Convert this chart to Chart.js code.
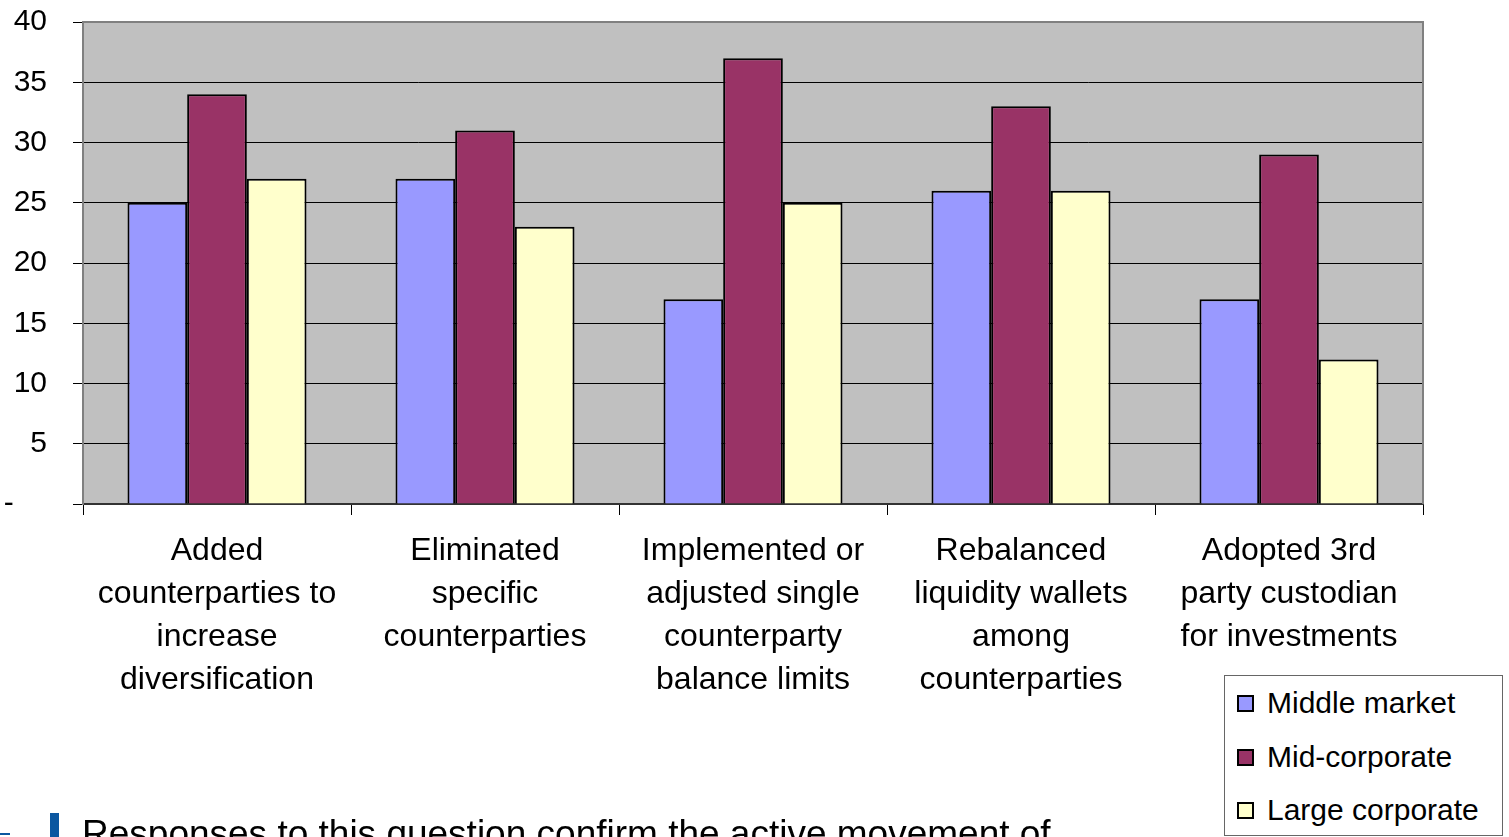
<!DOCTYPE html>
<html>
<head>
<meta charset="utf-8">
<title>Counterparty actions</title>
<script src="https://cdn.jsdelivr.net/npm/chart.js@4/dist/chart.umd.min.js"></script>
<style>
  body { margin: 0; background: #fff; overflow: hidden; }
  #wrap { position: relative; width: 1509px; height: 837px; overflow: hidden; }
  #legend {
    position: absolute; left: 1224px; top: 675px; width: 277px; height: 159px;
    border: 1px solid #666; background: #fff;
    font: 30px 'Liberation Sans', Arial, sans-serif; color: #000;
  }
  .item { position: absolute; left: 12px; height: 34px; line-height: 34px; white-space: nowrap; }
  .swatch { display: inline-block; width: 13px; height: 13px; border: 2px solid #000; vertical-align: middle; margin-right: 13px; position: relative; top: -2px; }
  #note {
    position: absolute; left: 82px; top: 815px; white-space: nowrap;
    font: 37px 'Liberation Sans', Arial, sans-serif; line-height: 1; color: #000;
  }
  #bar { position: absolute; left: 50px; top: 813px; width: 9px; height: 30px; background: #0b57a0; }
  #mark { position: absolute; left: 0; top: 833px; width: 10px; height: 2px; background: #0b57a0; }
</style>
</head>
<body>
<div id="wrap">
  <canvas id="chart" width="1509" height="837"></canvas>
  <div id="legend"></div>
  <div id="mark"></div>
  <div id="bar"></div>
  <div id="note">Responses to this question confirm the active movement of</div>
</div>
<script>
// chart data
const categories = [
    ['Added', 'counterparties to', 'increase', 'diversification'],
    ['Eliminated', 'specific', 'counterparties'],
    ['Implemented or', 'adjusted single', 'counterparty', 'balance limits'],
    ['Rebalanced', 'liquidity wallets', 'among', 'counterparties'],
    ['Adopted 3rd', 'party custodian', 'for investments']
];
const seriesNames = ['Middle market', 'Mid-corporate', 'Large corporate'];
const middleMarket = [25, 27, 17, 26, 17];
const midCorporate = [34, 31, 37, 33, 29];
const largeCorporate = [27, 23, 25, 26, 12];
const seriesColors = ['#9999FF', '#993366', '#FFFFCC'];
const yMin = 0, yMax = 40, yStep = 5;
const zeroLabel = '-    ';

Chart.defaults.font.family = "'Liberation Sans', Arial, sans-serif";
Chart.defaults.color = '#000';

// grey plot area with border like the Excel original
const plotArea = {
    id: 'plotArea',
    beforeDraw(chart) {
        const { ctx, chartArea: a } = chart;
        ctx.save();
        ctx.fillStyle = '#C0C0C0';
        ctx.fillRect(a.left, a.top, a.right - a.left, a.bottom - a.top);
        ctx.restore();
    },
    afterDatasetsDraw(chart) {
        const { ctx, chartArea: a } = chart;
        ctx.save();
        ctx.strokeStyle = '#808080';
        ctx.lineWidth = 2;
        ctx.beginPath();
        ctx.moveTo(a.left, a.bottom);
        ctx.lineTo(a.left, a.top);
        ctx.lineTo(a.right, a.top);
        ctx.lineTo(a.right, a.bottom);
        ctx.stroke();
        ctx.restore();
    }
};

const allValues = [middleMarket, midCorporate, largeCorporate];

const chart = new Chart(document.getElementById('chart'), {
    type: 'bar',
    data: {
        labels: categories,
        datasets: allValues.map((vals, i) => ({
            label: seriesNames[i],
            data: vals,
            backgroundColor: seriesColors[i],
            borderColor: '#000',
            borderWidth: 2,
            categoryPercentage: 0.668,
            barPercentage: 1.0
        }))
    },
    options: {
        responsive: false,
        animation: false,
        layout: { padding: { top: 22, right: 86, left: 0, bottom: 0 } },
        plugins: {
            legend: { display: false },
            tooltip: { enabled: false }
        },
        scales: {
            x: {
                grid: { drawOnChartArea: false, drawTicks: true, tickLength: 11, tickColor: '#000', lineWidth: 1 },
                border: { color: '#333', width: 2 },
                ticks: { font: { size: 32, lineHeight: 1.344 }, padding: 15, maxRotation: 0, autoSkip: false },
                afterFit: (scale) => { scale.height = 333; }
            },
            y: {
                min: yMin,
                max: yMax,
                grid: { color: '#000', lineWidth: 1, tickLength: 10, tickColor: '#000' },
                border: { color: '#808080', width: 2 },
                ticks: {
                    stepSize: yStep,
                    padding: 26,
                    font: { size: 30 },
                    callback: (v) => v === 0 ? zeroLabel : v
                },
                afterFit: (scale) => {
                    scale.width = 83;
                    // tick padding is horizontal here, don't let it push the plot down
                    scale.paddingTop = 0;
                    scale.paddingBottom = 0;
                }
            }
        }
    },
    plugins: [plotArea]
});

// legend box
const legend = document.getElementById('legend');
const rowCenters = [27, 81, 134];
seriesNames.forEach((name, i) => {
    const row = document.createElement('div');
    row.className = 'item';
    row.style.top = (rowCenters[i] - 17) + 'px';
    row.innerHTML = '<span class="swatch" style="background:' + seriesColors[i] + '"></span>' + name;
    legend.appendChild(row);
});
</script>
</body>
</html>
